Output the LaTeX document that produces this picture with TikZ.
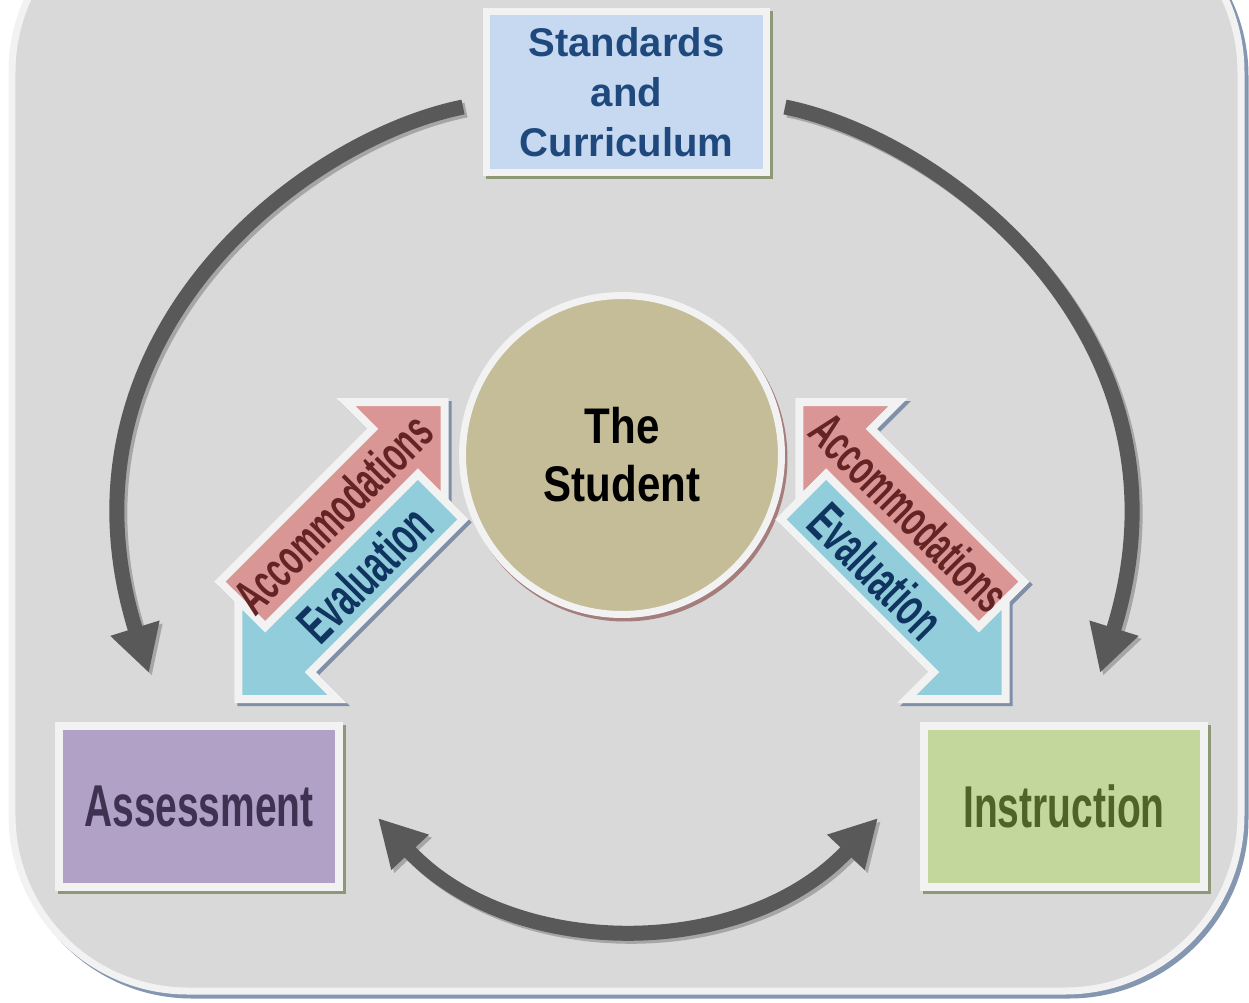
\documentclass[tikz,border=0pt]{standalone}
\usepackage{fontspec}
\setmainfont{Liberation Sans}
\newfontfamily\narrowfont[FakeStretch=0.66]{Liberation Sans}
\newfontfamily\slimfont[FakeStretch=0.6]{Liberation Sans}
\newfontfamily\semifont[FakeStretch=0.84]{Liberation Sans}
\usetikzlibrary{arrows.meta,shadows}

\definecolor{sheetgray}{RGB}{217,217,217}
\definecolor{paperwhite}{RGB}{242,242,242}
\definecolor{sheetshade}{RGB}{132,150,176}
\definecolor{cardshade}{RGB}{140,152,118}
\definecolor{arrowshade}{RGB}{128,143,168}
\definecolor{stdblue}{RGB}{198,217,241}
\definecolor{stdtext}{RGB}{31,73,125}
\definecolor{asslilac}{RGB}{178,161,199}
\definecolor{asstext}{RGB}{63,49,81}
\definecolor{insgreen}{RGB}{195,214,155}
\definecolor{instext}{RGB}{79,98,40}
\definecolor{studtan}{RGB}{196,189,151}
\definecolor{studshade}{RGB}{165,125,125}
\definecolor{accred}{RGB}{217,150,148}
\definecolor{acctext}{RGB}{99,36,35}
\definecolor{evalblue}{RGB}{146,205,220}
\definecolor{evaltext}{RGB}{16,52,96}
\definecolor{loopgray}{RGB}{89,89,89}
\definecolor{shadegray}{RGB}{166,166,166}

\tikzset{
  card/.style={rectangle, draw=paperwhite, line width=0.15cm, align=center, inner sep=0pt,
    minimum width=5.6cm, minimum height=3.22cm,
    drop shadow={shadow xshift=0.06cm, shadow yshift=-0.06cm, opacity=1, fill=cardshade, draw=cardshade}},
  cardfont/.style={font=\narrowfont\bfseries\fontsize{33.6}{38}\selectfont},
  twinarrow/.style={draw=paperwhite, line width=0.16cm},
  twinshadow/.style={draw=arrowshade, fill=arrowshade, line width=0.16cm},
  acclabel/.style={transform shape, inner sep=0pt, text=acctext, font=\slimfont\bfseries\fontsize{29}{32}\selectfont},
  evallabel/.style={transform shape, inner sep=0pt, text=evaltext, font=\slimfont\bfseries\fontsize{31}{34}\selectfont},
  loopline/.style={draw=loopgray, line width=0.3cm, -{Triangle[length=0.94cm, width=0.96cm]}},
  loopshadow/.style={loopline, draw=shadegray, transform canvas={shift={(3,3)}}}
}

\begin{document}
\begin{tikzpicture}[x=0.02cm, y=-0.02cm]
  \useasboundingbox (0,0) rectangle (1249,1002);
  \clip (0,0) rectangle (1249,1002);
  \fill[white] (0,0) rectangle (1249,1002);

  % sheet behind everything
  \draw[draw=sheetshade, line width=0.14cm, rounded corners=3.52cm] (16,-100) rectangle (1245,995);
  \draw[draw=paperwhite, fill=sheetgray, line width=0.14cm, rounded corners=3.52cm] (12,-104) rectangle (1241,991);

  % boxes
  \node[card, fill=stdblue, text=stdtext, font=\bfseries\fontsize{22.8}{28.5}\selectfont] (std) at (626.5,92) {Standards\\and\\Curriculum};
  \node[card, cardfont, fill=asslilac, text=asstext] (ass) at (199,806.5) {Assessment};
  \node[card, cardfont, fill=insgreen, text=instext] (ins) at (1064,806.5) {Instruction};

  % the student in the middle
  \node[circle, draw=paperwhite, line width=0.14cm, fill=studtan, minimum size=6.38cm, align=center,
    drop shadow={shadow xshift=0.05cm, shadow yshift=-0.07cm, opacity=1, fill=studshade, draw=studshade},
    font=\semifont\bfseries\fontsize{28.5}{33}\selectfont] (stu) at (622,455) {The\\Student};

  % grey loops
  \coordinate (stdL) at (463,107);
  \coordinate (stdR) at (785,107);
  \coordinate (assT) at (149,673);
  \coordinate (insT) at (1100,673);
  \coordinate (assR) at (378,818);
  \coordinate (insL) at (878,818);

  \draw[loopshadow] (stdL) .. controls (300,140) and (45,340) .. (assT);
  \draw[loopshadow] (stdR) .. controls (948,140) and (1204,340) .. (insT);
  \draw[loopshadow, {Triangle[length=0.94cm, width=0.96cm]}-{Triangle[length=0.94cm, width=0.96cm]}] (assR) .. controls (512,961) and (744,961) .. (insL);
  \draw[loopline] (stdL) .. controls (300,140) and (45,340) .. (assT);
  \draw[loopline] (stdR) .. controls (948,140) and (1204,340) .. (insT);
  \draw[loopline, {Triangle[length=0.94cm, width=0.96cm]}-{Triangle[length=0.94cm, width=0.96cm]}] (assR) .. controls (512,961) and (744,961) .. (insL);

  % left twin arrows
  \begin{scope}[shift={(344.5,553.5)}, rotate=45]
    \filldraw[twinshadow] (-108,-64) -- (108,-64) -- (108,-102) -- (178,-32) -- (108,38) -- (108,0) -- (-108,0) -- cycle;
    \filldraw[twinshadow] (108,0) -- (-108,0) -- (-108,-38) -- (-178,32) -- (-108,102) -- (-108,64) -- (108,64) -- cycle;
  \end{scope}
  \begin{scope}[shift={(341.5,550.5)}, rotate=45]
    \filldraw[twinarrow, fill=accred] (-108,-64) -- (108,-64) -- (108,-102) -- (178,-32) -- (108,38) -- (108,0) -- (-108,0) -- cycle;
    \filldraw[twinarrow, fill=evalblue] (108,0) -- (-108,0) -- (-108,-38) -- (-178,32) -- (-108,102) -- (-108,64) -- (108,64) -- cycle;
    \node[acclabel] (accL) at (20,-32) {Accommodations};
    \node[evallabel] (evaL) at (0,33) {Evaluation};
  \end{scope}

  % right twin arrows
  \begin{scope}[shift={(905.5,553.5)}, rotate=-45]
    \filldraw[twinshadow] (108,-64) -- (-108,-64) -- (-108,-102) -- (-178,-32) -- (-108,38) -- (-108,0) -- (108,0) -- cycle;
    \filldraw[twinshadow] (-108,0) -- (108,0) -- (108,-38) -- (178,32) -- (108,102) -- (108,64) -- (-108,64) -- cycle;
  \end{scope}
  \begin{scope}[shift={(902.5,550.5)}, rotate=-45]
    \filldraw[twinarrow, fill=accred] (108,-64) -- (-108,-64) -- (-108,-102) -- (-178,-32) -- (-108,38) -- (-108,0) -- (108,0) -- cycle;
    \filldraw[twinarrow, fill=evalblue] (-108,0) -- (108,0) -- (108,-38) -- (178,32) -- (108,102) -- (108,64) -- (-108,64) -- cycle;
    \node[acclabel] (accR) at (-22,-32) {Accommodations};
    \node[evallabel] (evaR) at (-4,33) {Evaluation};
  \end{scope}
\end{tikzpicture}
\end{document}
